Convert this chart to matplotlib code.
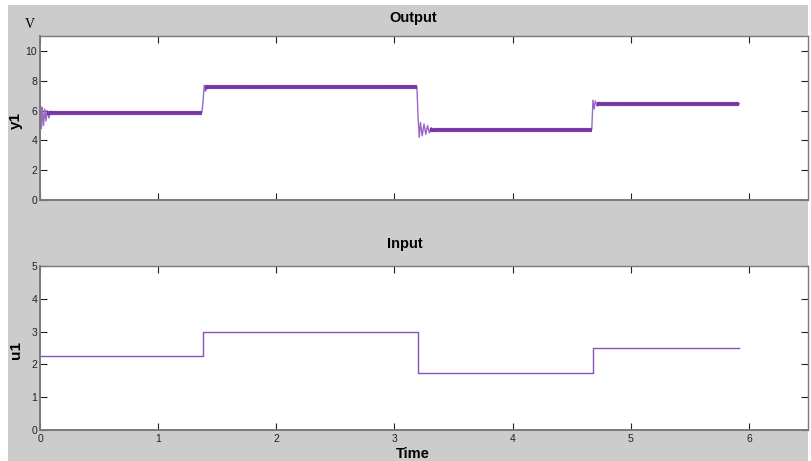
import matplotlib
matplotlib.use("Agg")
import matplotlib.pyplot as plt
from matplotlib.patches import Rectangle

# ---- data ----
# Input: piecewise-constant steps
u_times = [0.0, 1.38, 1.38, 3.20, 3.20, 4.68, 4.68, 5.92]
u_values = [2.25, 2.25, 3.0, 3.0, 1.75, 1.75, 2.5, 2.5]

# Output: full trace with the visible ringing after each step
y_times = [0.0, 0.005, 0.012, 0.02, 0.03, 0.04, 0.05, 0.06, 0.075, 0.09, 0.11, 1.37,
           1.38, 1.39, 1.40, 1.42, 1.45, 3.19,
           3.20, 3.21, 3.22, 3.235, 3.25, 3.265, 3.28, 3.295, 3.31, 3.33, 3.36, 3.40, 4.67,
           4.68, 4.69, 4.70, 4.715, 4.73, 4.75, 4.78, 5.92]
y_values = [2.8, 6.3, 4.8, 6.2, 5.0, 6.1, 5.3, 6.0, 5.5, 5.95, 5.87, 5.87,
            6.6, 7.7, 7.3, 7.6, 7.55, 7.6,
            5.5, 4.2, 5.2, 4.3, 5.1, 4.4, 5.0, 4.5, 4.85, 4.6, 4.75, 4.72, 4.72,
            6.7, 6.1, 6.65, 6.3, 6.55, 6.4, 6.47, 6.45]

# Output: settled (noisy) plateaus
plateau_start = [0.06, 1.40, 3.30, 4.71]
plateau_end = [1.37, 3.19, 4.67, 5.92]
plateau_level = [5.85, 7.57, 4.72, 6.45]

x_ticks = [0, 1, 2, 3, 4, 5, 6]
y1_ticks = [0, 2, 4, 6, 8, 10]
u1_ticks = [0, 1, 2, 3, 4, 5]

plt.rcParams['font.family'] = ['Liberation Sans', 'DejaVu Sans']

W, H = 811, 461
fig = plt.figure(figsize=(W / 100, H / 100), dpi=100, facecolor="white")

fig.patches.append(Rectangle((8 / W, 0), 800 / W, (H - 5) / H, transform=fig.transFigure,
                             facecolor="#cccccc", edgecolor="none", zorder=-10))

def px_axes(left, top, right, bottom):
    return fig.add_axes([left / W, 1 - bottom / H, (right - left) / W, (bottom - top) / H])

ax1 = px_axes(40, 36, 808, 200)
ax2 = px_axes(40, 266, 808, 430)

purple = "#6e2ca0"
ax1.plot(y_times, y_values, color="#9a68c6", lw=1.0, zorder=2)
for s, e, lv in zip(plateau_start, plateau_end, plateau_level):
    ax1.plot([s, e], [lv, lv], color=purple, lw=3.0, alpha=0.9, zorder=3,
             solid_capstyle="butt")
ax2.plot(u_times, u_values, color="#8a4fb8", lw=1.0)

for ax, yt, ylim in [(ax1, y1_ticks, (0, 11)), (ax2, u1_ticks, (0, 5))]:
    ax.set_xlim(0, 6.5)
    ax.set_ylim(*ylim)
    ax.set_xticks(x_ticks)
    ax.set_yticks(yt)
    ax.tick_params(direction="in", length=5, width=0.8, colors="#222222",
                   labelsize=7.5, top=True, right=True, pad=2)
    ax.tick_params(axis="x", pad=3)
    for s in ax.spines.values():
        s.set_color("#7a7a7a")
        s.set_linewidth(1.0)
    ax.spines["left"].set_linewidth(1.4)
    ax.spines["bottom"].set_linewidth(1.4)
    ax.set_facecolor("white")

ax1.set_xticklabels([])
ax2.set_xticklabels([str(t) for t in x_ticks])
ax1.set_yticklabels([str(t) for t in y1_ticks])
ax2.set_yticklabels([str(t) for t in u1_ticks])

fig.text(413 / W, 1 - 18 / H, "Output", ha="center", va="center", fontsize=10.5, fontweight="bold")
fig.text(405 / W, 1 - 244 / H, "Input", ha="center", va="center", fontsize=10.5, fontweight="bold")
fig.text(413 / W, 1 - 454 / H, "Time", ha="center", va="center", fontsize=10.5, fontweight="bold")
fig.text(16 / W, 1 - 120 / H, "y1", ha="center", va="center", fontsize=11, fontweight="bold", rotation=90)
fig.text(16 / W, 1 - 350 / H, "u1", ha="center", va="center", fontsize=11, fontweight="bold", rotation=90)
fig.text(30 / W, 1 - 24 / H, "V", ha="center", va="center", fontsize=10,
         family=["Liberation Serif", "DejaVu Serif"])

fig.savefig("out.png", dpi=100, facecolor=fig.get_facecolor())
